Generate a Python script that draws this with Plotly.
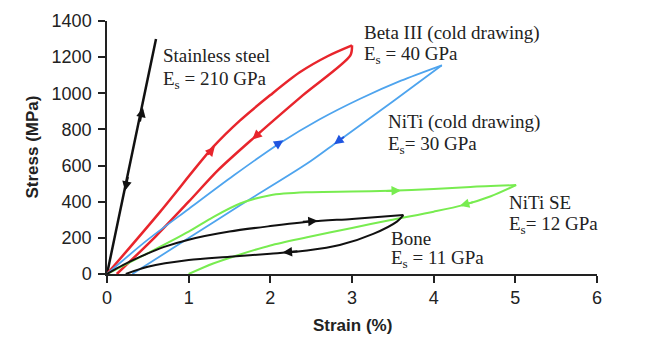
import plotly.graph_objects as go

# ---- data (strain %, stress MPa) ----
steel_x = [0.0, 0.6]
steel_y = [0, 1300]

beta_load_x = [0.0, 0.65, 1.3, 1.63, 2.0, 2.36, 2.7, 3.0]
beta_load_y = [0, 344, 703, 850, 990, 1116, 1205, 1265]
beta_unload_x = [3.0, 2.98, 2.4, 1.81, 1.36, 1.0, 0.6, 0.12]
beta_unload_y = [1265, 1210, 990, 759, 575, 400, 210, 0]

niti_load_x = [0.0, 0.5, 1.0, 1.55, 2.12, 2.6, 3.1, 3.6, 4.1]
niti_load_y = [0, 190, 360, 545, 725, 855, 970, 1070, 1155]
niti_unload_x = [4.1, 3.5, 2.83, 2.45, 1.63, 1.0, 0.31]
niti_unload_y = [1155, 955, 735, 611, 380, 199, 0]

se_load_x = [0.0, 0.5, 1.0, 1.3, 1.63, 2.0, 2.45, 3.0, 3.46, 4.0, 4.45, 5.01]
se_load_y = [0, 115, 234, 315, 390, 436, 452, 456, 460, 470, 482, 492]
se_unload_x = [5.01, 4.7, 4.36, 4.0, 3.46, 3.0, 2.45, 2.0, 1.63, 1.3, 1.0]
se_unload_y = [492, 430, 381, 345, 298, 255, 203, 158, 108, 58, 0]

bone_load_x = [0.0, 0.2, 0.41, 0.7, 1.0, 1.5, 2.0, 2.5, 3.0, 3.63]
bone_load_y = [0, 50, 96, 150, 190, 235, 265, 290, 305, 326]
bone_unload_x = [3.63, 3.55, 3.26, 2.85, 2.45, 2.0, 1.5, 1.0, 0.5, 0.23]
bone_unload_y = [326, 290, 222, 160, 130, 112, 95, 77, 40, 0]

# arrows: tips and tails
arrow_tip_x = [0.44, 0.22, 1.32, 1.78, 2.16, 2.78, 3.60, 4.32, 2.58, 2.15]
arrow_tip_y = [920, 460, 705, 745, 740, 718, 462, 377, 294, 119]
arrow_tail_x = [0.40, 0.26, 1.22, 1.90, 2.04, 2.92, 3.40, 4.50, 2.38, 2.35]
arrow_tail_y = [836, 545, 652, 795, 705, 765, 459, 400, 288, 126]

labels = ["Stainless steel", "E<sub>s</sub> = 210 GPa",
          "Beta III (cold drawing)", "E<sub>s</sub> = 40 GPa",
          "NiTi (cold drawing)", "E<sub>s</sub>= 30 GPa",
          "NiTi SE", "E<sub>s</sub>= 12 GPa",
          "Bone", "E<sub>s</sub> = 11 GPa"]
label_x = [0.66, 0.66, 3.12, 3.12, 3.42, 3.42, 4.90, 4.90, 3.45, 3.45]
label_y = [1210, 1072, 1332, 1210, 840, 713, 398, 271, 199, 83]

x_ticks = [0, 1, 2, 3, 4, 5, 6]
y_ticks = [0, 200, 400, 600, 800, 1000, 1200, 1400]

RED = "#e8252c"
BLUE = "#4ea4ee"
DBLUE = "#1f55e0"
GREEN = "#78ec50"
BLACK = "#111111"

fig = go.Figure()

def add(x, y, c, w=2):
    fig.add_trace(go.Scatter(x=x, y=y, mode="lines",
                             line=dict(color=c, width=w, shape="spline", smoothing=0.8),
                             showlegend=False, hoverinfo="skip"))

add(steel_x, steel_y, BLACK, 2.5)
add(beta_load_x, beta_load_y, RED, 2.5)
add(beta_unload_x, beta_unload_y, RED, 2.5)
add(niti_load_x, niti_load_y, BLUE, 1.8)
add(niti_unload_x, niti_unload_y, BLUE, 1.8)
add(se_load_x, se_load_y, GREEN, 2)
add(se_unload_x, se_unload_y, GREEN, 2)
add(bone_load_x, bone_load_y, BLACK, 2)
add(bone_unload_x, bone_unload_y, BLACK, 2)

arrow_colors = [BLACK, BLACK, RED, RED, DBLUE, DBLUE, GREEN, GREEN, BLACK, BLACK]
for tx, ty, sx, sy, c in zip(arrow_tip_x, arrow_tip_y, arrow_tail_x, arrow_tail_y, arrow_colors):
    fig.add_annotation(x=tx, y=ty, ax=sx, ay=sy, xref="x", yref="y", axref="x", ayref="y",
                       text="", showarrow=True, arrowhead=2, arrowsize=0.95,
                       arrowwidth=2, arrowcolor=c)

for t, lx, ly in zip(labels, label_x, label_y):
    fig.add_annotation(x=lx, y=ly, xref="x", yref="y", text=t, showarrow=False,
                       xanchor="left", yanchor="middle",
                       font=dict(family="Liberation Serif, Times New Roman, serif", size=19,
                                 color="#222222"))

fig.add_annotation(xref="paper", yref="paper", x=0, y=0.5, xshift=-75, text="<b>Stress (MPa)</b>",
                   textangle=-90, showarrow=False, xanchor="center", yanchor="middle",
                   font=dict(family="Liberation Sans, Arial, sans-serif", size=17, color="#222222"))
fig.add_annotation(xref="paper", yref="paper", x=0.5, y=0, yshift=-51, text="<b>Strain (%)</b>",
                   showarrow=False, xanchor="center", yanchor="middle",
                   font=dict(family="Liberation Sans, Arial, sans-serif", size=17, color="#222222"))

axis_common = dict(showgrid=False, zeroline=False, showline=True, linecolor="#222222",
                   linewidth=1.5, ticks="outside", ticklen=7, tickwidth=1.5, tickcolor="#222222",
                   tickfont=dict(family="Liberation Sans, Arial, sans-serif", size=18, color="#222222"))

fig.update_layout(
    width=645, height=351,
    margin=dict(l=107, r=48, t=21, b=77),
    paper_bgcolor="white", plot_bgcolor="white",
    xaxis=dict(range=[0, 6], tickvals=x_ticks, **axis_common),
    yaxis=dict(range=[0, 1400], tickvals=y_ticks, ticklabelstandoff=3, **axis_common),
)

fig.write_html("out.html")
